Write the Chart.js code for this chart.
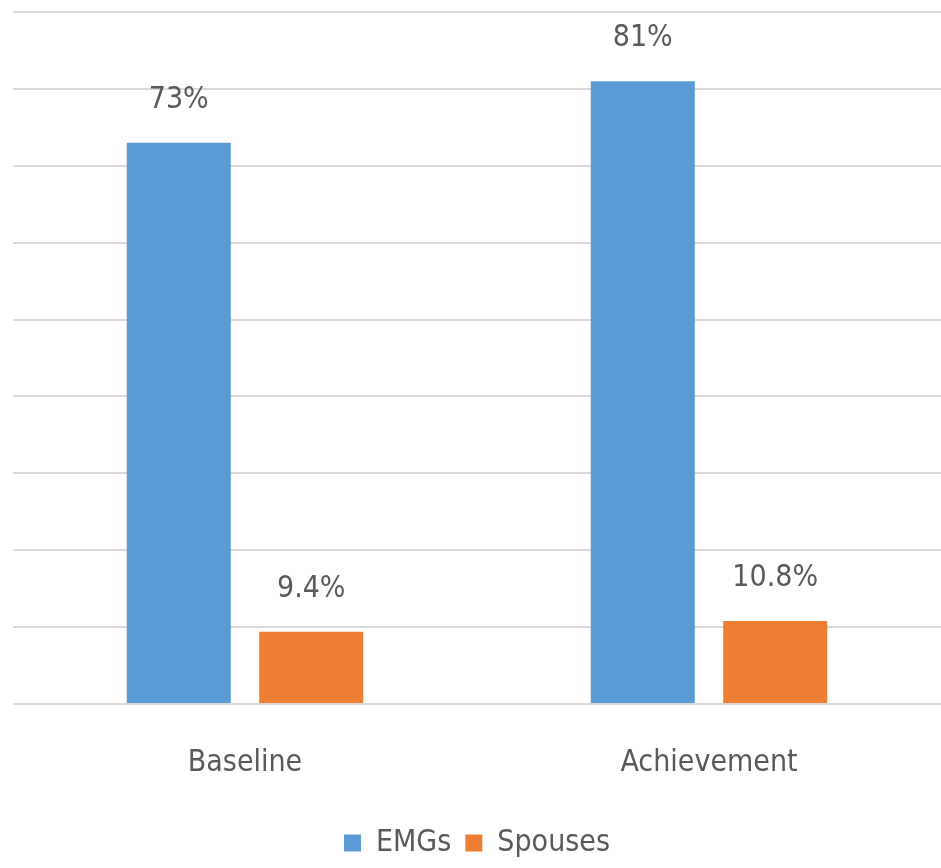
<!DOCTYPE html>
<html>
<head>
<meta charset="utf-8">
<script src="https://cdn.jsdelivr.net/npm/chart.js@4"></script>
<style>
    html, body { margin: 0; padding: 0; background: #fff; }
    #wrap { width: 941px; height: 868px; }
</style>
</head>
<body>
<div id="wrap"><canvas id="grafico"></canvas></div>
<script>
// dados do gráfico
const categorias = ['Baseline', 'Achievement'];
const valoresEMGs = [73, 81];
const valoresSpouses = [9.4, 10.8];
const rotulosEMGs = ['73%', '81%'];
const rotulosSpouses = ['9.4%', '10.8%'];

const FONTE = '"Liberation Sans Narrow", "DejaVu Sans Condensed", "Liberation Sans", sans-serif';
const COR_TEXTO = '#595959';

// desenha os rótulos acima das barras
const rotulosPlugin = {
    id: 'rotulos',
    afterDatasetsDraw(chart) {
        const ctx = chart.ctx;
        ctx.save();
        ctx.font = '30px ' + FONTE;
        ctx.fillStyle = COR_TEXTO;
        ctx.textAlign = 'center';
        ctx.textBaseline = 'middle';
        chart.data.datasets.forEach((ds, i) => {
            chart.getDatasetMeta(i).data.forEach((bar, j) => {
                ctx.fillText(ds.rotulos[j], bar.x, bar.y - 43);
            });
        });
        ctx.restore();
    }
};

new Chart(document.getElementById('grafico').getContext('2d'), {
    type: 'bar',
    data: {
        labels: categorias,
        datasets: [
            { label: 'EMGs', data: valoresEMGs, rotulos: rotulosEMGs, backgroundColor: '#5b9bd5', categoryPercentage: 0.571, barPercentage: 0.785 },
            { label: 'Spouses', data: valoresSpouses, rotulos: rotulosSpouses, backgroundColor: '#ed7d31', categoryPercentage: 0.571, barPercentage: 0.785 }
        ]
    },
    options: {
        responsive: true,
        maintainAspectRatio: false,
        animation: false,
        layout: { padding: { left: 13, right: 0, top: 12, bottom: 0 } },
        plugins: {
            tooltip: { enabled: false },
            legend: {
                position: 'bottom',
                labels: {
                    color: COR_TEXTO,
                    font: { family: FONTE, size: 30 },
                    boxWidth: 17,
                    boxHeight: 17,
                    padding: 14
                }
            }
        },
        scales: {
            y: {
                min: 0,
                max: 90,
                ticks: { display: false, stepSize: 10 },
                border: { display: false },
                grid: { color: '#d9d9d9', lineWidth: 2, drawTicks: false }
            },
            x: {
                ticks: { color: COR_TEXTO, font: { family: FONTE, size: 30 }, padding: 33 },
                border: { display: false },
                grid: { display: false }
            }
        }
    },
    plugins: [rotulosPlugin]
});
</script>
</body>
</html>
